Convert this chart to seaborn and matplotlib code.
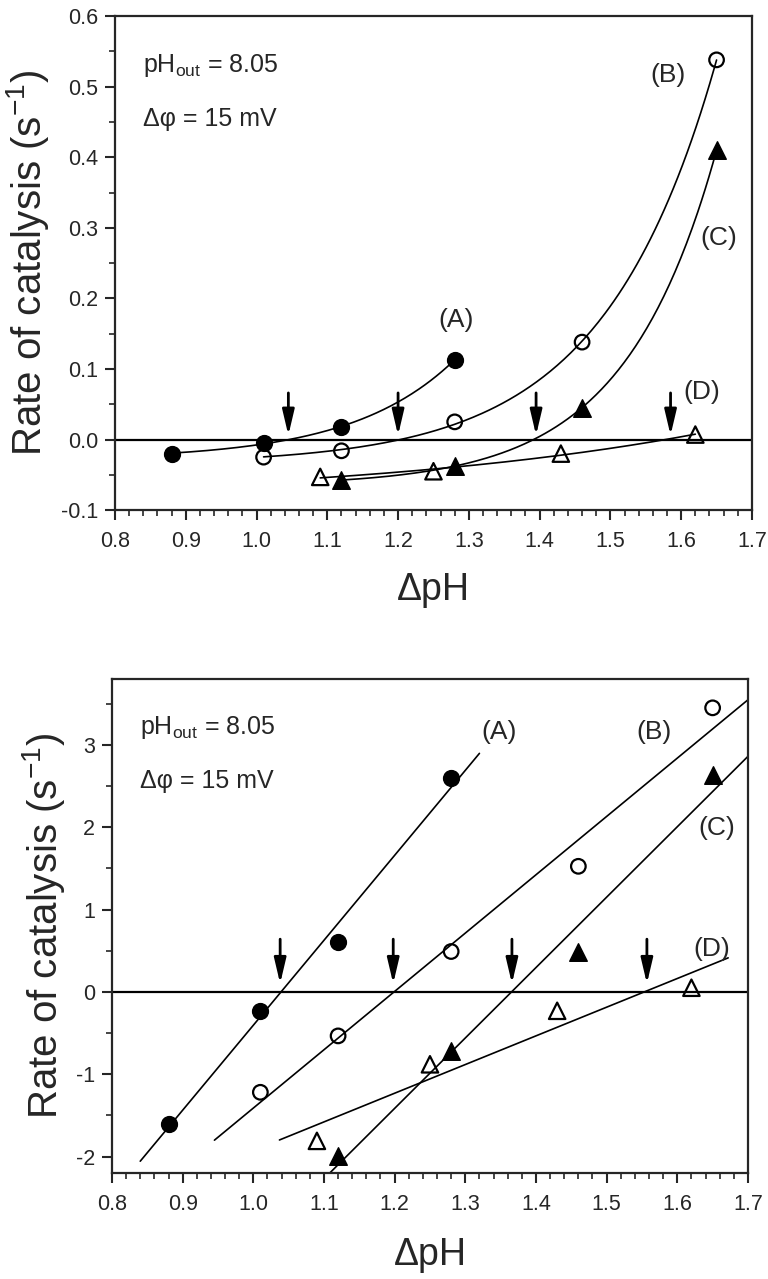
import numpy as np
import matplotlib
matplotlib.use("Agg")
import matplotlib.pyplot as plt
from matplotlib.ticker import MultipleLocator, FormatStrFormatter
import seaborn as sns

# ---- data ----
# top panel: rate of catalysis (s^-1) vs delta pH
dph_A = [0.88, 1.01, 1.12, 1.28]
rate_A = [-0.020, -0.005, 0.018, 0.113]
dph_B = [1.01, 1.12, 1.28, 1.46, 1.65]
rate_B = [-0.025, -0.016, 0.025, 0.138, 0.538]
dph_C = [1.12, 1.28, 1.46, 1.65]
rate_C = [-0.058, -0.037, 0.045, 0.410]
dph_D = [1.09, 1.25, 1.43, 1.62]
rate_D = [-0.053, -0.045, -0.020, 0.007]

# bottom panel: linearised rates
lin_A = [-1.60, -0.23, 0.60, 2.60]
lin_B = [-1.22, -0.535, 0.49, 1.525, 3.45]
lin_C = [-1.99, -0.72, 0.48, 2.64]
lin_D = [-1.81, -0.88, -0.23, 0.05]

# zero crossings marked with arrows
cross_top = [1.045, 1.20, 1.395, 1.585]
cross_bot = [1.038, 1.198, 1.366, 1.557]

# x extent of the regression lines in the bottom panel
span_A = [0.84, 1.32]
span_B = [0.945, 1.70]
span_C = [1.10, 1.70]
span_D = [1.037, 1.672]

names = ["(A)", "(B)", "(C)", "(D)"]

sns.set_theme(style="ticks")
plt.rcParams["font.family"] = ["Liberation Sans", "DejaVu Sans"]
plt.rcParams["mathtext.fontset"] = "custom"
plt.rcParams["mathtext.rm"] = "Liberation Sans"
plt.rcParams["mathtext.it"] = "Liberation Sans:italic"
plt.rcParams["axes.unicode_minus"] = False


def exp_fit(x, y):
    # y = a + b*exp(c*x), c by grid search, a/b by least squares
    x = np.asarray(x, float)
    y = np.asarray(y, float)
    best = None
    for c in np.linspace(0.5, 40, 1600):
        M = np.column_stack([np.ones_like(x), np.exp(c * (x - x.max()))])
        coef = np.linalg.lstsq(M, y, rcond=None)[0]
        r = np.sum((M @ coef - y) ** 2)
        if best is None or r < best[0]:
            best = (r, c, coef)
    _, c, coef = best
    xs = np.linspace(x.min(), x.max(), 200)
    return xs, coef[0] + coef[1] * np.exp(c * (xs - x.max()))


def lin_fit(x, y, span):
    k, b = np.polyfit(x, y, 1)
    xs = np.array(span)
    return xs, k * xs + b


styles = [dict(marker="o", s=130, color="black", edgecolor="black", linewidth=1),
          dict(marker="o", s=110, facecolor="none", edgecolor="black", linewidth=1.6),
          dict(marker="^", s=160, color="black", edgecolor="black", linewidth=1),
          dict(marker="^", s=140, facecolor="none", edgecolor="black", linewidth=1.6)]


def style_axes(ax, xminor, ymajor, yminor, yfmt):
    ax.set_xlim(0.8, 1.7)
    ax.xaxis.set_major_locator(MultipleLocator(0.1))
    ax.xaxis.set_minor_locator(MultipleLocator(xminor))
    ax.yaxis.set_major_locator(MultipleLocator(ymajor))
    ax.yaxis.set_minor_locator(MultipleLocator(yminor))
    ax.xaxis.set_major_formatter(FormatStrFormatter("%.1f"))
    ax.yaxis.set_major_formatter(FormatStrFormatter(yfmt))
    ax.tick_params(which="major", direction="out", length=7, width=1.5, labelsize=15.5)
    ax.tick_params(axis="x", which="major", pad=8)
    ax.tick_params(axis="y", which="major", pad=5)
    ax.tick_params(which="minor", direction="out", length=4, width=1.2)
    ax.tick_params(top=False, right=False, which="both")
    for sp in ax.spines.values():
        sp.set_linewidth(1.6)
        sp.set_visible(True)
    ax.axhline(0, color="black", lw=1.6, zorder=1)
    ax.set_xlabel("ΔpH", fontsize=27)
    ax.set_ylabel("Rate of catalysis (s$^{-1}$)", fontsize=29)


def arrows(ax, xs, y0, y1):
    for x in xs:
        ax.annotate("", xy=(x, y1), xytext=(x, y0),
                    arrowprops=dict(arrowstyle="-|>,head_length=0.85,head_width=0.2",
                                    color="black", lw=2, mutation_scale=18,
                                    shrinkA=0, shrinkB=0))


fig = plt.figure(figsize=(7.68, 12.79), dpi=100)
ax1 = fig.add_axes([0.1497, 0.6012, 0.8294, 0.3862])
ax2 = fig.add_axes([0.1458, 0.0829, 0.8281, 0.3862])

# ---- top panel ----
top_x = [dph_A, dph_B, dph_C, dph_D]
top_y = [rate_A, rate_B, rate_C, rate_D]
for x, y, st in zip(top_x, top_y, styles):
    xs, ys = exp_fit(x, y)
    sns.lineplot(x=xs, y=ys, ax=ax1, color="black", lw=1.2, sort=False, estimator=None, zorder=2)
    sns.scatterplot(x=x, y=y, ax=ax1, zorder=3, **st)
ax1.set_ylim(-0.1, 0.6)
style_axes(ax1, 0.02, 0.1, 0.05, "%.1f")
arrows(ax1, cross_top, 0.066, 0.006)
for name, pos in zip(names, [(1.282, 0.169), (1.581, 0.516), (1.653, 0.286), (1.629, 0.068)]):
    ax1.text(*pos, name, fontsize=19, ha="center", va="center")
ax1.text(0.044, 0.887, "pH$_{\\mathrm{out}}$ = 8.05", transform=ax1.transAxes, fontsize=18)
ax1.text(0.044, 0.777, "Δφ = 15 mV", transform=ax1.transAxes, fontsize=18)
ax1.yaxis.set_label_coords(-0.1, 0.5)
ax1.xaxis.set_label_coords(0.5, -0.125)

# ---- bottom panel ----
bot_y = [lin_A, lin_B, lin_C, lin_D]
spans = [span_A, span_B, span_C, span_D]
for x, y, sp, st in zip(top_x, bot_y, spans, styles):
    xs, ys = lin_fit(x, y, sp)
    sns.lineplot(x=xs, y=ys, ax=ax2, color="black", lw=1.2, sort=False, estimator=None, zorder=2)
    sns.scatterplot(x=x, y=y, ax=ax2, zorder=3, **st)
ax2.set_ylim(-2.2, 3.8)
style_axes(ax2, 0.02, 1, 0.5, "%d")
arrows(ax2, cross_bot, 0.64, 0.10)
for name, pos in zip(names, [(1.348, 3.16), (1.567, 3.16), (1.656, 1.99), (1.649, 0.515)]):
    ax2.text(*pos, name, fontsize=19, ha="center", va="center")
ax2.text(0.044, 0.889, "pH$_{\\mathrm{out}}$ = 8.05", transform=ax2.transAxes, fontsize=18)
ax2.text(0.044, 0.779, "Δφ = 15 mV", transform=ax2.transAxes, fontsize=18)
ax2.yaxis.set_label_coords(-0.07, 0.5)
ax2.xaxis.set_label_coords(0.5, -0.13)

fig.savefig("out.png", dpi=100)
